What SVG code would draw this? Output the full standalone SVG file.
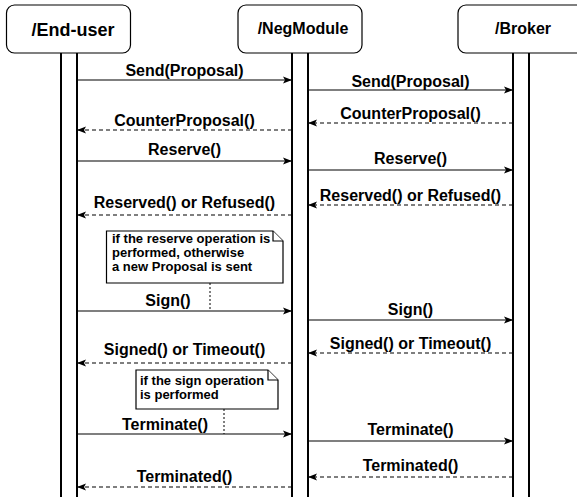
<svg xmlns="http://www.w3.org/2000/svg" width="577" height="497" viewBox="0 0 577 497">
<defs>
<marker id="ah" markerWidth="10" markerHeight="8" refX="9" refY="4" orient="auto" markerUnits="userSpaceOnUse">
<path d="M0,0.5 L9,4 L0,7.5 L2,4 Z" fill="#000"/>
</marker>
<style>
.box{fill:#fff;stroke:#000;stroke-width:1.2}
.life{stroke:#000;stroke-width:2;fill:none}
.msg{stroke:#000;stroke-width:1.2;fill:none;marker-end:url(#ah)}
.ret{stroke:#000;stroke-width:1.2;fill:none;stroke-dasharray:4 3;marker-end:url(#ah)}
.lbl{font-family:"Liberation Sans",Arial,sans-serif;font-weight:bold;font-size:16px;text-anchor:middle;fill:#000}
.hdr{font-family:"Liberation Sans",Arial,sans-serif;font-weight:bold;font-size:16px;text-anchor:middle;fill:#000}
.note{fill:#fff;stroke:#000;stroke-width:1.2}
.ntxt{font-family:"Liberation Sans",Arial,sans-serif;font-weight:bold;font-size:13px;fill:#000}
.dot{stroke:#000;stroke-width:1;stroke-dasharray:2 2;fill:none}
</style>
</defs>
<rect width="577" height="497" fill="#fff"/>
<g id="enduser">
<rect class="box" x="6.5" y="5" width="124" height="48" rx="8"/>
<text class="hdr" x="73" y="36" style="font-size:18px">/End-user</text>
<line class="life" x1="61" y1="53" x2="61" y2="497"/>
<line class="life" x1="77" y1="53" x2="77" y2="497"/>
</g>
<g id="negmodule">
<rect class="box" x="238" y="5" width="124" height="48" rx="8"/>
<text class="hdr" x="303" y="34">/NegModule</text>
<line class="life" x1="292" y1="53" x2="292" y2="497"/>
<line class="life" x1="308" y1="53" x2="308" y2="497"/>
</g>
<g id="broker">
<rect class="box" x="458" y="5" width="140" height="48" rx="8"/>
<text class="hdr" x="523" y="34">/Broker</text>
<line class="life" x1="513" y1="53" x2="513" y2="497"/>
<line class="life" x1="529" y1="53" x2="529" y2="497"/>
</g>
<g id="note1">
<path class="note" d="M106.5,231 H273 L283,241 V283 H106.5 Z"/>
<path class="note" d="M273,231 V241 H283" fill="none"/>
<text class="ntxt" x="112" y="243">if the reserve operation is</text>
<text class="ntxt" x="112" y="257">performed, otherwise</text>
<text class="ntxt" x="112" y="271">a new Proposal is sent</text>
</g>
<g id="note2">
<path class="note" d="M136,370 H268 L278,380 V409 H136 Z"/>
<path class="note" d="M268,370 V380 H278" fill="none"/>
<text class="ntxt" x="140" y="385">if the sign operation</text>
<text class="ntxt" x="140" y="399">is performed</text>
</g>
<g id="connectors">
<line class="dot" x1="210" y1="283" x2="210" y2="310"/>
<line class="dot" x1="224" y1="409" x2="224" y2="434"/>
<line class="msg" x1="77" y1="80" x2="292" y2="80"/>
<line class="msg" x1="308" y1="90" x2="513" y2="90"/>
<line class="ret" x1="292" y1="130" x2="77" y2="130"/>
<line class="ret" x1="513" y1="123" x2="308" y2="123"/>
<line class="msg" x1="77" y1="161" x2="292" y2="161"/>
<line class="msg" x1="308" y1="170" x2="513" y2="170"/>
<line class="ret" x1="292" y1="215" x2="77" y2="215"/>
<line class="ret" x1="513" y1="205" x2="308" y2="205"/>
<line class="msg" x1="77" y1="311" x2="292" y2="311"/>
<line class="msg" x1="308" y1="320" x2="513" y2="320"/>
<line class="ret" x1="292" y1="363" x2="77" y2="363"/>
<line class="ret" x1="513" y1="353" x2="308" y2="353"/>
<line class="msg" x1="77" y1="434" x2="292" y2="434"/>
<line class="msg" x1="308" y1="441" x2="513" y2="441"/>
<line class="ret" x1="513" y1="477" x2="308" y2="477"/>
<line class="ret" x1="292" y1="487" x2="77" y2="487"/>
</g>
<g id="labels">
<text class="lbl" x="184.5" y="76">Send(Proposal)</text>
<text class="lbl" x="410.5" y="87">Send(Proposal)</text>
<text class="lbl" x="184.5" y="126">CounterProposal()</text>
<text class="lbl" x="410.5" y="119">CounterProposal()</text>
<text class="lbl" x="184.5" y="155">Reserve()</text>
<text class="lbl" x="410.5" y="164">Reserve()</text>
<text class="lbl" x="184.5" y="208">Reserved() or Refused()</text>
<text class="lbl" x="410.5" y="201">Reserved() or Refused()</text>
<text class="lbl" x="168" y="306">Sign()</text>
<text class="lbl" x="410.5" y="315">Sign()</text>
<text class="lbl" x="184.5" y="355">Signed() or Timeout()</text>
<text class="lbl" x="410.5" y="349">Signed() or Timeout()</text>
<text class="lbl" x="165" y="430">Terminate()</text>
<text class="lbl" x="410.5" y="435">Terminate()</text>
<text class="lbl" x="410.5" y="471">Terminated()</text>
<text class="lbl" x="184.5" y="482">Terminated()</text>
</g>
</svg>
